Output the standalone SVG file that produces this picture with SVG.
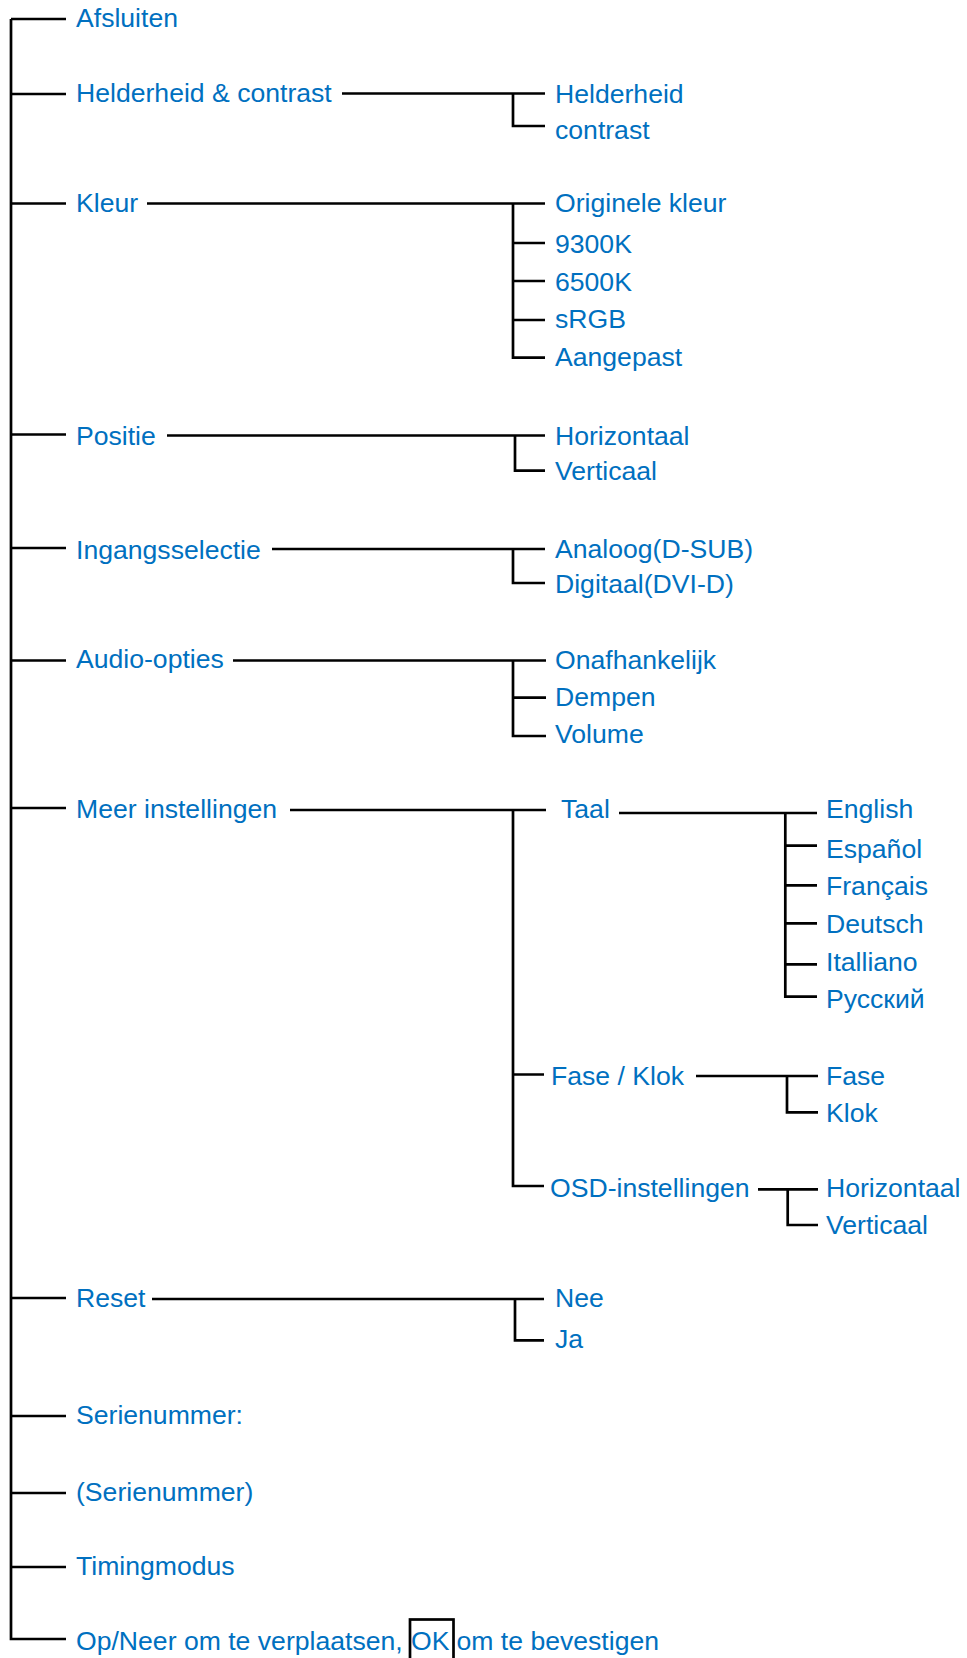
<svg xmlns="http://www.w3.org/2000/svg" width="967" height="1658" viewBox="0 0 967 1658">
<style>
.t{font-family:"Liberation Sans",Arial,sans-serif;font-size:26.6px;fill:#0070C0}
.c{stroke:#000;stroke-width:2.7;fill:none}
</style>
<rect width="967" height="1658" fill="#fff"/>
<g id="connectors" class="c">
<path d="M11 19 V1639 H66"/>
<path d="M11 19 H66 M11 94 H66 M11 203.5 H66 M11 434.5 H66 M11 548 H66 M11 660.5 H66 M11 808 H66 M11 1298 H66 M11 1416 H66 M11 1493 H66 M11 1567 H66"/>
<path d="M342 93.5 H545 M513 93.5 V126 H545"/>
<path d="M147 203.5 H545 M513 203.5 V357.7 H545 M513 243 H545 M513 281 H545 M513 320 H545"/>
<path d="M167 435.5 H545 M515 435.5 V470.7 H545"/>
<path d="M272 549 H545 M513 549 V583 H545"/>
<path d="M233 660.5 H546 M513 660.5 V736 H546 M513 697.7 H546"/>
<path d="M290 810 H546 M513 810 V1186 H544 M513 1074.5 H544"/>
<path d="M619 813 H817 M785.3 813 V996.7 H817 M785.3 845.7 H817 M785.3 885.3 H817 M785.3 923.3 H817 M785.3 964.3 H817"/>
<path d="M696 1076 H818 M787 1076 V1112.3 H818"/>
<path d="M758 1189.3 H818 M787.7 1189.3 V1225 H818"/>
<path d="M152 1299 H544 M515 1299 V1340.3 H544"/>
</g>
<g id="n-afsluiten"><text class="t" x="76" y="27">Afsluiten</text></g>
<g id="n-helderheid-contrast"><text class="t" x="76" y="102">Helderheid &amp; contrast</text></g>
<g id="n-helderheid"><text class="t" x="555" y="102.7">Helderheid</text></g>
<g id="n-contrast"><text class="t" x="555" y="139">contrast</text></g>
<g id="n-kleur"><text class="t" x="76" y="212">Kleur</text></g>
<g id="n-originele"><text class="t" x="555" y="211.7">Originele kleur</text></g>
<g id="n-9300k"><text class="t" x="555" y="252.5">9300K</text></g>
<g id="n-6500k"><text class="t" x="555" y="290.5">6500K</text></g>
<g id="n-srgb"><text class="t" x="555" y="328.3">sRGB</text></g>
<g id="n-aangepast"><text class="t" x="555" y="366">Aangepast</text></g>
<g id="n-positie"><text class="t" x="76" y="445">Positie</text></g>
<g id="n-pos-hor"><text class="t" x="555" y="445">Horizontaal</text></g>
<g id="n-pos-ver"><text class="t" x="555" y="480">Verticaal</text></g>
<g id="n-ingang"><text class="t" x="76" y="559">Ingangsselectie</text></g>
<g id="n-analoog"><text class="t" x="555" y="558.3">Analoog(D-SUB)</text></g>
<g id="n-digitaal"><text class="t" x="555" y="592.7">Digitaal(DVI-D)</text></g>
<g id="n-audio"><text class="t" x="76" y="668">Audio-opties</text></g>
<g id="n-onafh"><text class="t" x="555" y="669.3">Onafhankelijk</text></g>
<g id="n-dempen"><text class="t" x="555" y="706">Dempen</text></g>
<g id="n-volume"><text class="t" x="555" y="743.3">Volume</text></g>
<g id="n-meer"><text class="t" x="76" y="818.3">Meer instellingen</text></g>
<g id="n-taal"><text class="t" x="561" y="818.3">Taal</text></g>
<g id="n-english"><text class="t" x="826" y="818.3">English</text></g>
<g id="n-espanol"><text class="t" x="826" y="857.7">Español</text></g>
<g id="n-francais"><text class="t" x="826" y="895">Français</text></g>
<g id="n-deutsch"><text class="t" x="826" y="933.3">Deutsch</text></g>
<g id="n-italliano"><text class="t" x="826" y="971">Italliano</text></g>
<g id="n-russkiy"><text class="t" x="826" y="1008.3">Русский</text></g>
<g id="n-faseklok"><text class="t" x="551" y="1085">Fase / Klok</text></g>
<g id="n-fase"><text class="t" x="826" y="1085">Fase</text></g>
<g id="n-klok"><text class="t" x="826" y="1121.7">Klok</text></g>
<g id="n-osd"><text class="t" x="550" y="1196.7">OSD-instellingen</text></g>
<g id="n-osd-hor"><text class="t" x="826" y="1196.7">Horizontaal</text></g>
<g id="n-osd-ver"><text class="t" x="826" y="1233.5">Verticaal</text></g>
<g id="n-reset"><text class="t" x="76" y="1306.7">Reset</text></g>
<g id="n-nee"><text class="t" x="555" y="1306.7">Nee</text></g>
<g id="n-ja"><text class="t" x="555" y="1348.3">Ja</text></g>
<g id="n-serienummer"><text class="t" x="76" y="1424">Serienummer:</text></g>
<g id="n-serienummer2"><text class="t" x="76" y="1501">(Serienummer)</text></g>
<g id="n-timing"><text class="t" x="76" y="1575">Timingmodus</text></g>
<g id="n-opneer">
<text class="t" x="76" y="1650">Op/Neer om te verplaatsen, <tspan x="411">OK</tspan><tspan x="456.5">om te bevestigen</tspan></text>
<rect class="c" x="410" y="1619.5" width="43.5" height="50"/>
</g>
</svg>
